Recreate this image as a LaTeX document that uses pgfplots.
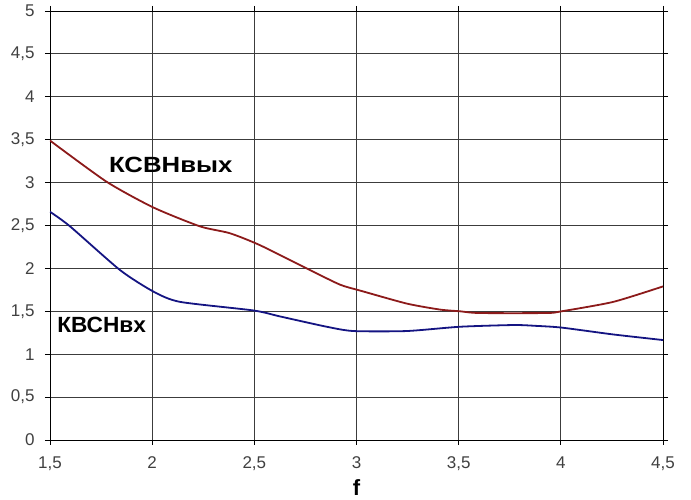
\documentclass[border=0pt]{standalone}
\usepackage{pgfplots}
\pgfplotsset{compat=1.18}
\usepackage{fontspec}
\setmainfont{Liberation Sans}
\definecolor{redc}{RGB}{140,26,26}
\definecolor{bluec}{RGB}{20,20,130}
\definecolor{gridc}{RGB}{60,60,60}
\newcommand\tfont{\fontsize{17}{19}\selectfont}
\begin{document}
\begin{tikzpicture}
\begin{axis}[
  scale only axis,
  width=613pt, height=429pt,
  xmin=1.5, xmax=4.5, ymin=0, ymax=5,
  xtick={1.5,2,2.5,3,3.5,4,4.5}, ytick={0,0.5,1,1.5,2,2.5,3,3.5,4,4.5,5},
  xticklabels={{\tfont 1,5},{\tfont 2},{\tfont 2,5},{\tfont 3},{\tfont 3,5},{\tfont 4},{\tfont 4,5}},
  yticklabels={{\tfont 0},{\tfont 0,5},{\tfont 1},{\tfont 1,5},{\tfont 2},{\tfont 2,5},{\tfont 3},{\tfont 3,5},{\tfont 4},{\tfont 4,5},{\tfont 5}},
  tick label style={text=black!75},
  xticklabel style={yshift=-8pt},
  yticklabel style={xshift=-7pt},
  tick align=outside, major tick length=5pt,
  tick style={black, line width=0.8pt},
  grid=major,
  major grid style={gridc, line width=0.9pt},
  axis line style={black, line width=0.9pt},
  xlabel={\textbf{f}},
  xlabel style={font=\fontsize{22}{24}\selectfont, at={(axis description cs:0.5,0)}, anchor=center, yshift=-48pt},
]
\addplot[redc, line width=1.8pt, smooth, tension=0.4] coordinates {
 (1.5,3.49) (1.777,3.01) (2.006,2.71) (2.234,2.49) (2.38,2.41) (2.528,2.27)
 (2.773,1.98) (2.92,1.81) (3.02,1.74) (3.246,1.59) (3.409,1.52) (3.507,1.50)
 (3.6,1.48) (3.93,1.48) (4.004,1.50) (4.257,1.61) (4.5,1.79)
};
\addplot[bluec, line width=1.8pt, smooth, tension=0.4] coordinates {
 (1.5,2.66) (1.598,2.49) (1.843,1.98) (2.006,1.73) (2.136,1.61) (2.495,1.51)
 (2.626,1.44) (2.854,1.32) (2.985,1.27) (3.246,1.27) (3.507,1.32) (3.77,1.34)
 (3.88,1.33) (4.004,1.31) (4.257,1.23) (4.5,1.165)
};
\node[font=\bfseries\fontsize{22}{24}\selectfont, xscale=1.17] at (axis cs:2.091,3.21) {КСВНвых};
\node[font=\bfseries\fontsize{22}{24}\selectfont, xscale=1.03] at (axis cs:1.753,1.344) {КВСНвх};
\end{axis}
\pgfresetboundingbox
\path (-50pt,-60pt) rectangle (641pt,440pt);
\end{tikzpicture}
\end{document}
